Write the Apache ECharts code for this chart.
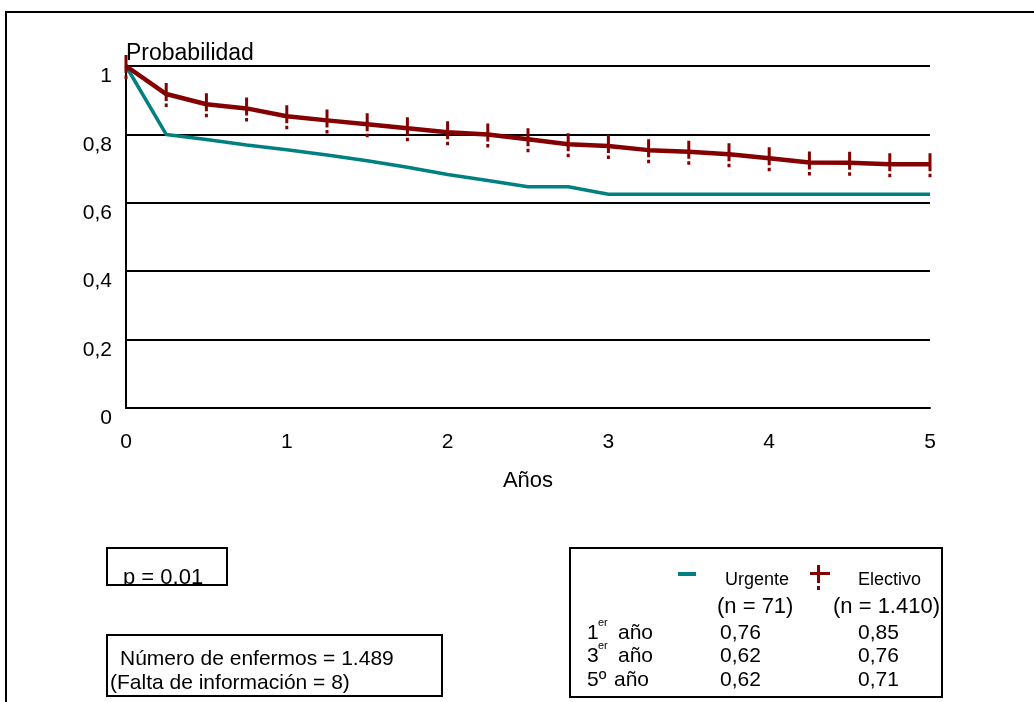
<!DOCTYPE html>
<html>
<head>
<meta charset="utf-8">
<script src="https://cdn.jsdelivr.net/npm/echarts@6/dist/echarts.min.js"></script>
<style>
html,body{margin:0;padding:0;background:#fff;}
#chart{width:1034px;height:702px;}
</style>
</head>
<body>
<div id="chart"></div>
<script>
// ---- data ----
const years = [0, 0.25, 0.5, 0.75, 1, 1.25, 1.5, 1.75, 2, 2.25, 2.5, 2.75, 3, 3.25, 3.5, 3.75, 4, 4.25, 4.5, 4.75, 5];
const urgente = [1, 0.80, 0.785, 0.769, 0.755, 0.74, 0.723, 0.704, 0.683, 0.665, 0.647, 0.647, 0.625, 0.625, 0.625, 0.625, 0.625, 0.625, 0.625, 0.625, 0.625];
const electivo = [1, 0.918, 0.888, 0.876, 0.853, 0.841, 0.830, 0.818, 0.806, 0.800, 0.786, 0.771, 0.766, 0.754, 0.749, 0.742, 0.730, 0.718, 0.717, 0.713, 0.713];
const xTickLabels = ['0', '1', '2', '3', '4', '5'];
const yTickLabels = ['0', '0,2', '0,4', '0,6', '0,8', '1'];
const seriesNames = ['Urgente', 'Electivo'];
const seriesN = ['(n = 71)', '(n = 1.410)'];
const rowNums = ['1', '3', '5º'];
const rowSup = ['er', 'er', ''];
const urgenteSummary = ['0,76', '0,62', '0,62'];
const electivoSummary = ['0,85', '0,76', '0,71'];
const pText = 'p = 0,01';
const nText1 = 'Número de enfermos = 1.489';
const nText2 = '(Falta de información = 8)';

// ---- styles ----
const FONT = '"Liberation Sans", Arial, sans-serif';
const TEAL = '#008080';
const RED = '#850000';
const TICK = 'path://M0,0H3V18H0Z M0,20.5H3V24H0Z';

const chart = echarts.init(document.getElementById('chart'), null, {renderer: 'canvas'});

function txt(x, y, text, size, extra) {
  return Object.assign({
    type: 'text', x: x, y: y, z: 10,
    style: {text: text, fontSize: size, fontFamily: FONT, fill: '#000', align: 'left', verticalAlign: 'middle'}
  }, extra || {});
}

const graphics = [
  // outer frame
  {type: 'rect', shape: {x: 6, y: 12, width: 1100, height: 800}, style: {fill: 'rgba(0,0,0,0)', stroke: '#000', lineWidth: 2}, z: 1},
  // p box
  txt(123, 578, pText, 22),
  {type: 'rect', shape: {x: 107, y: 548, width: 120, height: 37}, style: {fill: 'rgba(0,0,0,0)', stroke: '#000', lineWidth: 2}, z: 11},
  {type: 'rect', shape: {x: 110, y: 586, width: 110, height: 8}, style: {fill: '#fff'}, z: 12},
  // number box
  txt(120, 659, nText1, 21),
  {type: 'rect', shape: {x: 112, y: 665, width: 300, height: 3}, style: {fill: '#fff'}, z: 12},
  txt(110, 683, nText2, 21),
  {type: 'rect', shape: {x: 107, y: 635, width: 335, height: 61}, style: {fill: 'rgba(0,0,0,0)', stroke: '#000', lineWidth: 2}, z: 11},
  // legend/summary box
  {type: 'rect', shape: {x: 570, y: 548, width: 372, height: 149}, style: {fill: 'rgba(0,0,0,0)', stroke: '#000', lineWidth: 2}, z: 11},
  {type: 'rect', shape: {x: 678, y: 572, width: 18, height: 4}, style: {fill: TEAL}, z: 11},
  {type: 'rect', shape: {x: 810, y: 572, width: 20, height: 3}, style: {fill: RED}, z: 11},
  {type: 'rect', shape: {x: 817, y: 565, width: 3, height: 18}, style: {fill: RED}, z: 11},
  {type: 'rect', shape: {x: 817, y: 586, width: 3, height: 4}, style: {fill: RED}, z: 11},
  txt(725, 580, seriesNames[0], 18),
  txt(858, 580, seriesNames[1], 18),
  txt(717, 607, seriesN[0], 22),
  txt(833, 607, seriesN[1], 22)
];
const rowY = [633, 656, 680];
rowNums.forEach((n, i) => {
  graphics.push(txt(587, rowY[i], n, 21));
  if (rowSup[i]) {
    graphics.push(txt(598, rowY[i] - 10, rowSup[i], 11));
    graphics.push(txt(618, rowY[i], 'año', 21));
  } else {
    graphics.push(txt(614, rowY[i], 'año', 21));
  }
  graphics.push(txt(720, rowY[i], urgenteSummary[i], 21));
  graphics.push(txt(858, rowY[i], electivoSummary[i], 21));
});

const option = {
  animation: false,
  backgroundColor: '#fff',
  grid: {left: 126, right: 104, top: 66, bottom: 294, containLabel: false},
  xAxis: {
    type: 'value', min: 0, max: 5, interval: 1,
    name: 'Años', nameLocation: 'middle', nameGap: 62,
    nameTextStyle: {fontSize: 22, fontFamily: FONT, color: '#000'},
    axisLine: {show: true, lineStyle: {color: '#000', width: 2}},
    axisTick: {show: false},
    splitLine: {show: false},
    axisLabel: {margin: 24, fontSize: 21, fontFamily: FONT, color: '#000',
      formatter: v => xTickLabels[Math.round(v)]}
  },
  yAxis: {
    type: 'value', min: 0, max: 1, interval: 0.2,
    name: 'Probabilidad', nameLocation: 'end', nameGap: 12,
    nameTextStyle: {fontSize: 23, fontFamily: FONT, color: '#000', align: 'left', verticalAlign: 'middle'},
    axisLine: {show: true, lineStyle: {color: '#000', width: 2}},
    axisTick: {show: false},
    splitLine: {show: true, lineStyle: {color: '#000', width: 2}},
    axisLabel: {margin: 14, fontSize: 21, fontFamily: FONT, color: '#000', verticalAlign: 'top',
      formatter: v => yTickLabels[Math.round(v / 0.2)]}
  },
  graphic: graphics,
  series: [
    {
      name: seriesNames[0], type: 'line',
      data: years.map((x, i) => [x, urgente[i]]),
      showSymbol: false, symbol: 'none',
      lineStyle: {color: TEAL, width: 3.5},
      itemStyle: {color: TEAL}, z: 3
    },
    {
      name: seriesNames[1], type: 'line',
      data: years.map((x, i) => [x, electivo[i]]),
      showSymbol: true, symbol: TICK, symbolSize: [3, 24], symbolOffset: [0, 1],
      lineStyle: {color: RED, width: 4.5},
      itemStyle: {color: RED}, z: 4
    }
  ]
};
chart.setOption(option);
</script>
</body>
</html>
